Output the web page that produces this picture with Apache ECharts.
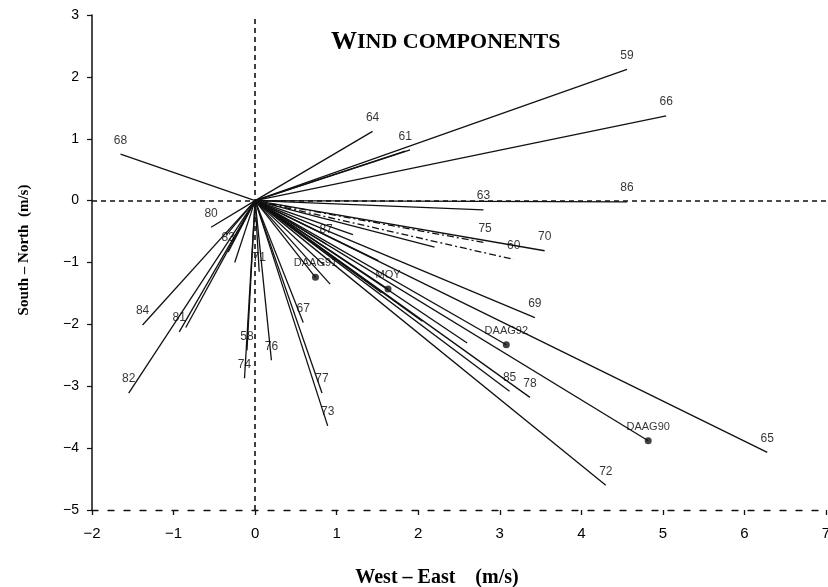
<!DOCTYPE html>
<html><head><meta charset="utf-8">
<script src="https://cdn.jsdelivr.net/npm/echarts/dist/echarts.min.js"></script>
<style>html,body{margin:0;padding:0;background:#fff}#c{width:828px;height:587px}</style>
</head><body><div id="c"></div>
<script>
// Labelled wind vectors (end points, m/s)
const vecNames = ['59','66','64','61','68','86','63','75','60','70','80','83','84','81','82','58','74','71','76','67','77','73','87','69','85','78','72','65'];
const vecX = [4.56, 5.04, 1.44, 1.84, -1.65, 4.56, 2.80, 2.82, 3.17, 3.55, -0.54, -0.33, -1.38, -0.93, -1.55, -0.10, -0.13, 0.05, 0.20, 0.59, 0.82, 0.89, 0.87, 3.43, 3.12, 3.37, 4.30, 6.28];
const vecY = [2.12, 1.37, 1.12, 0.80, 0.75, -0.02, -0.15, -0.68, -0.95, -0.81, -0.43, -0.83, -2.01, -2.12, -3.11, -2.42, -2.87, -1.15, -2.58, -1.97, -3.11, -3.64, -0.70, -1.89, -3.08, -3.18, -4.60, -4.07];
const vecDashed = ['75','60'];
// Station / mean vectors drawn with a dot
const dotNames = ['DAAG91','MOY','DAAG92','DAAG90'];
const dotX = [0.74, 1.63, 3.08, 4.82];
const dotY = [-1.24, -1.43, -2.33, -3.88];
// Unlabelled vectors in the bundles
const extraX = [1.90, 1.51, 1.55, 0.85, 0.92, 2.20, -0.25, -0.35, -0.85, 2.05, 2.60, 1.20];
const extraY = [0.82, -0.97, -1.49, -1.05, -1.35, -0.75, -1.00, -0.55, -2.05, -1.95, -2.30, -0.55];
// Axis ticks
const xTicks = [-2, -1, 0, 1, 2, 3, 4, 5, 6, 7];
const yTicks = [-5, -4, -3, -2, -1, 0, 1, 2, 3];

const fmt = v => v < 0 ? '\u2212' + (-v) : String(v);
const lineData = [];
vecNames.forEach((n, i) => lineData.push({coords: [[0, 0], [vecX[i], vecY[i]]],
  lineStyle: vecDashed.includes(n) ? {type: [7, 3, 2, 3]} : {}}));
dotNames.forEach((n, i) => lineData.push({coords: [[0, 0], [dotX[i], dotY[i]]]}));
extraX.forEach((x, i) => lineData.push({coords: [[0, 0], [x, extraY[i]]]}));

const chart = echarts.init(document.getElementById('c'));
chart.setOption({
  animation: false,
  backgroundColor: '#fff',
  title: {
    text: '{a|W}{b|IND COMPONENTS}', left: 326, top: 24,
    textStyle: {rich: {
      a: {fontFamily: 'Liberation Serif', fontWeight: 'bold', fontSize: 26, color: '#000'},
      b: {fontFamily: 'Liberation Serif', fontWeight: 'bold', fontSize: 22, color: '#000'}
    }}
  },
  graphic: [{
    type: 'text', x: 24, y: 250, rotation: Math.PI / 2,
    style: {text: 'South \u2013 North  (m/s)', fontFamily: 'Liberation Serif', fontWeight: 'bold',
      fontSize: 15, fill: '#000', align: 'center', verticalAlign: 'middle'}
  }],
  grid: {left: 92, right: 2, top: 15, bottom: 77, containLabel: false, outerBoundsMode: 'none'},
  xAxis: {
    type: 'value', min: xTicks[0], max: xTicks[xTicks.length - 1], interval: 1,
    name: 'West \u2013 East    (m/s)', nameLocation: 'middle', nameGap: 58,
    nameTextStyle: {fontFamily: 'Liberation Serif', fontWeight: 'bold', fontSize: 20, color: '#000', padding: [0, 44, 0, 0]},
    axisLine: {onZero: false, lineStyle: {color: '#111', width: 1.3, type: [6, 10]}},
    axisTick: {show: true, inside: false, length: 5, lineStyle: {color: '#111', width: 1.3}},
    axisLabel: {formatter: fmt, fontFamily: 'Liberation Sans', fontSize: 15, color: '#000', margin: 16},
    splitLine: {show: false}
  },
  yAxis: {
    type: 'value', min: yTicks[0], max: yTicks[yTicks.length - 1], interval: 1,
    axisLine: {show: true, onZero: false, lineStyle: {color: '#111', width: 1.5}},
    axisTick: {show: true, length: 5, lineStyle: {color: '#111', width: 1.2}},
    axisLabel: {formatter: fmt, fontFamily: 'Liberation Sans', fontSize: 14, color: '#000', margin: 13},
    splitLine: {show: false}
  },
  series: [
    {
      type: 'lines', coordinateSystem: 'cartesian2d', silent: true,
      lineStyle: {color: '#111', width: 1.3, opacity: 1},
      data: lineData, z: 3
    },
    {
      type: 'scatter', symbolSize: 0, silent: true,
      data: vecNames.map((n, i) => [vecX[i], vecY[i], n]),
      label: {show: true, position: 'top', distance: 8, formatter: p => p.data[2],
        fontFamily: 'Liberation Sans', fontSize: 12, color: '#000'},
      markLine: {
        silent: true, symbol: 'none', label: {show: false},
        lineStyle: {color: '#111', width: 1.6, type: [5, 4]},
        data: [{xAxis: 0}, {yAxis: 0}]
      }, z: 4
    },
    {
      type: 'scatter', symbol: 'circle', symbolSize: 7, silent: true,
      itemStyle: {color: '#111'},
      data: dotNames.map((n, i) => [dotX[i], dotY[i], n]),
      label: {show: true, position: 'top', distance: 5, formatter: p => p.data[2],
        fontFamily: 'Liberation Sans', fontSize: 11, color: '#000'}, z: 5
    }
  ]
});
</script></body></html>
